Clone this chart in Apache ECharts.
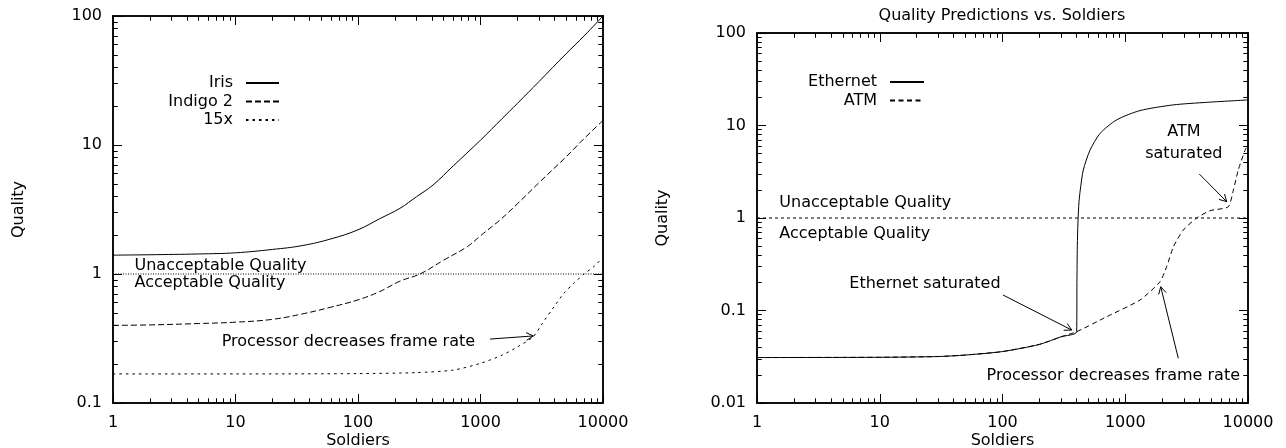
<!DOCTYPE html>
<html><head><meta charset="utf-8">
<script src="https://cdn.jsdelivr.net/npm/echarts@6/dist/echarts.min.js"></script>
<style>html,body{margin:0;padding:0;background:#fff}#c,#t{position:absolute;left:0;top:0;width:1286px;height:448px}#t{pointer-events:none}</style>
</head><body><div id="c"></div><div id="t"></div>
<script>
// ---- tick labels (axis ranges) ----
const xTicks = [1, 10, 100, 1000, 10000];
const yTicksLeft = [0.1, 1, 10, 100];
const yTicksRight = [0.01, 0.1, 1, 10, 100];

// ---- left chart series ----
const irisX = [1, 2, 5, 10, 20, 35, 60, 100, 150, 220, 300, 410, 600, 1000, 1500, 2000, 3000, 5000, 7000, 10000];
const irisY = [1.40, 1.41, 1.43, 1.46, 1.55, 1.66, 1.87, 2.2, 2.68, 3.23, 3.97, 4.9, 6.9, 10.9, 16, 21, 31, 51, 70, 100];
const indigoX = [1, 2, 5, 10, 20, 35, 60, 100, 150, 220, 320, 500, 780, 1000, 1440, 2000, 3000, 5000, 7000, 10000];
const indigoY = [0.40, 0.403, 0.413, 0.423, 0.445, 0.49, 0.553, 0.63, 0.73, 0.88, 1.0, 1.28, 1.63, 1.98, 2.62, 3.5, 5.1, 8.1, 11.2, 15.5];
const fifteenX = [1, 10, 100, 300, 600, 1000, 1500, 2000, 2700, 3200, 4000, 4800, 5800, 7000, 8500, 10000];
const fifteenY = [0.168, 0.168, 0.169, 0.172, 0.18, 0.203, 0.235, 0.272, 0.327, 0.415, 0.56, 0.71, 0.85, 1.0, 1.15, 1.35];
const thresholdX = [1, 10000];
const thresholdY = [1, 1];

// ---- right chart series ----
const ethX = [1, 10, 30, 50, 100, 200, 300, 402, 404, 407, 412, 420, 430, 455, 516, 623, 851, 1320, 2460, 4610, 10000];
const ethY = [0.031, 0.0312, 0.0318, 0.033, 0.036, 0.043, 0.052, 0.059, 0.2, 0.5, 0.9, 1.5, 2.0, 3.3, 5.4, 8.2, 11.5, 14.5, 16.7, 17.8, 18.9];
const atmX = [1, 10, 30, 50, 100, 200, 300, 402, 706, 1320, 1920, 2180, 2470, 2970, 3820, 4900, 6900, 7600, 8330, 9460, 10000];
const atmY = [0.031, 0.0312, 0.0318, 0.033, 0.036, 0.043, 0.052, 0.059, 0.0857, 0.13, 0.205, 0.30, 0.49, 0.74, 1.0, 1.2, 1.32, 2.0, 3.3, 5.4, 6.2];

// ---- annotations (data coordinates) ----
const notes = [
  { grid: 0, text: 'Unacceptable Quality', at: [1.498, 1.174], align: 'left' },
  { grid: 0, text: 'Acceptable Quality', at: [1.498, 0.867], align: 'left' },
  { grid: 0, text: 'Processor decreases frame rate', at: [7.71, 0.305], align: 'left' },
  { grid: 1, text: 'Unacceptable Quality', at: [1.519, 1.489], align: 'left' },
  { grid: 1, text: 'Acceptable Quality', at: [1.519, 0.683], align: 'left' },
  { grid: 1, text: 'Ethernet saturated', at: [5.65, 0.1993], align: 'left' },
  { grid: 1, text: 'ATM', at: [3010, 8.83], align: 'center' },
  { grid: 1, text: 'saturated', at: [3000, 5.04], align: 'center' },
  { grid: 1, text: 'Processor decreases frame rate', at: [8606, 0.0202], align: 'right' }
];
const arrows = [
  { grid: 0, from: [1196, 0.313], to: [2700, 0.331] },
  { grid: 1, from: [100.9, 0.1471], to: [366.3, 0.0615] },
  { grid: 1, from: [4012, 2.99], to: [6707, 1.50] },
  { grid: 1, from: [2705, 0.0304], to: [1945, 0.1808] }
];

const FONT = 'DejaVu Sans';
const BLACK = '#000';

function pairs(xs, ys) { return xs.map((x, i) => [x, ys[i]]); }
function fmt(v) { return String(+(+v).toPrecision(6)); }
const first = a => a[0], last = a => a[a.length - 1];

const grids = [
  { left: 113, top: 16, width: 490, height: 387, outerBoundsMode: 'none' },
  { left: 757, top: 33, width: 491, height: 370, outerBoundsMode: 'none' }
];

function logAxis(grid, pos, min, max, labels, name, nameGap, nameRotate, margin) {
  const a = {
    type: 'log', gridIndex: grid, position: pos, min, max,
    axisLine: { show: true, lineStyle: { color: BLACK, width: 1.5 } },
    axisTick: { show: true, inside: true, length: 9, lineStyle: { color: BLACK, width: 1 } },
    minorTick: { show: true, splitNumber: 9, length: 4.5, lineStyle: { color: BLACK, width: 1 } },
    axisLabel: labels ? { show: true, formatter: fmt, color: BLACK, fontFamily: FONT, fontSize: 16, margin } : { show: false },
    splitLine: { show: false }
  };
  if (name) {
    a.name = name; a.nameLocation = 'middle'; a.nameGap = nameGap; a.nameRotate = nameRotate;
    a.nameMoveOverlap = false;
    a.nameTextStyle = { color: BLACK, fontFamily: FONT, fontSize: 16 };
  }
  return a;
}
function buildAxes(withText) {
  const xs = [], ys = [];
  [[xTicks, yTicksLeft], [xTicks, yTicksRight]].forEach(([xt, yt], g) => {
    xs.push(logAxis(g, 'bottom', first(xt), last(xt), withText, withText ? 'Soldiers' : null, 30, 0, 12));
    xs.push(logAxis(g, 'top', first(xt), last(xt), false));
    ys.push(logAxis(g, 'left', first(yt), last(yt), withText, withText ? 'Quality' : null, 86, 90, 11));
    ys.push(logAxis(g, 'right', first(yt), last(yt), false));
  });
  return { xs, ys };
}

function line(name, xi, xs, ys, type, z, smooth) {
  return {
    name, type: 'line', xAxisIndex: xi, yAxisIndex: xi, data: pairs(xs, ys),
    symbol: 'none', showSymbol: false, silent: true, z: z || 2,
    smooth: smooth || false,
    lineStyle: { color: BLACK, width: 1, type },
    itemStyle: { color: BLACK }
  };
}

const legendCommon = {
  orient: 'vertical', align: 'right', itemHeight: 14, itemGap: 2.5, padding: 0,
  selectedMode: false,
  itemStyle: { color: 'transparent', borderColor: 'transparent', borderWidth: 0, opacity: 0 },
  textStyle: { fontFamily: FONT, fontSize: 16, color: BLACK, padding: [0, 8, 0, 0] }
};

// ---- main chart ----
const mainAxes = buildAxes(true);
const chart = echarts.init(document.getElementById('c'));
chart.setOption({
  animation: false,
  title: {
    text: 'Quality Predictions vs. Soldiers', left: 1002, top: 8, textAlign: 'center', padding: 0,
    textStyle: { fontFamily: FONT, fontSize: 16, fontWeight: 'normal', color: BLACK }
  },
  grid: grids,
  xAxis: mainAxes.xs,
  yAxis: mainAxes.ys,
  legend: [
    Object.assign({}, legendCommon, { data: ['Iris', 'Indigo 2', '15x'], right: 1286 - 280, top: 75, itemWidth: 33 }),
    Object.assign({}, legendCommon, { data: ['Ethernet', 'ATM'], right: 1286 - 925, top: 74, itemWidth: 34 })
  ],
  series: [
    line('threshold-left', 0, thresholdX, thresholdY, [1, 1.5], 1),
    line('Iris', 0, irisX, irisY, 'solid', 2, 0.4),
    line('Indigo 2', 0, indigoX, indigoY, [6, 3], 2, 0.4),
    line('15x', 0, fifteenX, fifteenY, [2.5, 4], 2, 0.25),
    line('threshold-right', 2, thresholdX, thresholdY, [3, 3], 1),
    line('ATM', 2, atmX, atmY, [5, 3.5], 2, 0.2),
    line('Ethernet', 2, ethX, ethY, 'solid', 3, 0.25)
  ]
});

function px(grid, pt) {
  return chart.convertToPixel({ xAxisIndex: grid * 2, yAxisIndex: grid * 2 }, pt);
}
const graphics = [];
notes.forEach(n => {
  const p = px(n.grid, n.at);
  graphics.push({
    type: 'text', x: p[0], y: p[1] + 1, silent: true, z: 10,
    style: { text: n.text, font: '16px "' + FONT + '"', fill: BLACK, align: n.align, verticalAlign: 'middle', textAlign: n.align, textVerticalAlign: 'middle' }
  });
});
arrows.forEach(a => {
  const p0 = px(a.grid, a.from), p1 = px(a.grid, a.to);
  const dx = p1[0] - p0[0], dy = p1[1] - p0[1];
  const len = Math.hypot(dx, dy), ux = dx / len, uy = dy / len;
  const L = 8, ang = 0.5;
  const c = Math.cos(ang), s = Math.sin(ang);
  const h1 = [p1[0] - L * (ux * c - uy * s), p1[1] - L * (uy * c + ux * s)];
  const h2 = [p1[0] - L * (ux * c + uy * s), p1[1] - L * (uy * c - ux * s)];
  graphics.push({ type: 'polyline', silent: true, z: 10, shape: { points: [p0, p1] }, style: { stroke: BLACK, lineWidth: 1, fill: null } });
  graphics.push({ type: 'polyline', silent: true, z: 10, shape: { points: [h1, p1, h2] }, style: { stroke: BLACK, lineWidth: 1, fill: null } });
});
chart.setOption({ graphic: graphics });

// ---- frame overlay: the same grids and log axes again, carrying the inward major/minor ticks ----
const frameAxes = buildAxes(false);
const frame = echarts.init(document.getElementById('t'));
frame.setOption({
  animation: false,
  backgroundColor: 'transparent',
  grid: grids,
  xAxis: frameAxes.xs,
  yAxis: frameAxes.ys,
  series: [
    { type: 'line', xAxisIndex: 0, yAxisIndex: 0, data: [], symbol: 'none', silent: true },
    { type: 'line', xAxisIndex: 2, yAxisIndex: 2, data: [], symbol: 'none', silent: true }
  ]
});
</script>
</body></html>
